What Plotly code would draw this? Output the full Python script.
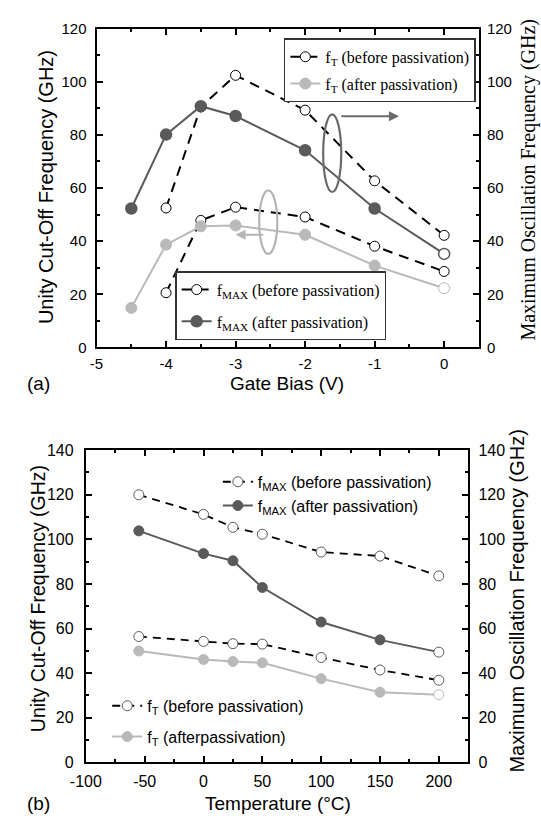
import plotly.graph_objects as go

# ---------------- data: (a) gate bias ----------------
bias_after = [-4.5, -4, -3.5, -3, -2, -1, 0]
bias_before = [-4, -3.5, -3, -2, -1, 0]
ft_before_a = [20.6, 47.8, 52.8, 49.1, 38.1, 28.6]
ft_after_a = [14.9, 38.7, 45.6, 45.9, 42.4, 30.8, 22.3]
fmax_before_a = [52.5, 90.5, 102.4, 89.3, 62.7, 42.2]
fmax_after_a = [52.3, 80.1, 90.8, 87.1, 74.2, 52.3, 35.2]

# ---------------- data: (b) temperature ----------------
temp = [-55, 0, 25, 50, 100, 150, 200]
fmax_before_b = [120.0, 111.2, 105.4, 102.3, 94.3, 92.5, 83.6]
fmax_after_b = [103.8, 93.6, 90.4, 78.4, 62.9, 54.9, 49.4]
ft_before_b = [56.4, 54.2, 53.2, 53.0, 47.0, 41.4, 36.8]
ft_after_b = [49.9, 46.1, 45.2, 44.6, 37.5, 31.4, 30.3]

# ---------------- tick labels ----------------
xa_tickvals = [-5, -4, -3, -2, -1, 0]
xa_ticktext = ["-5", "-4", "-3", "-2", "-1", "0"]
ya_tickvals = [0, 20, 40, 60, 80, 100, 120]
ya_ticktext = ["0", "20", "40", "60", "80", "100", "120"]
xb_tickvals = [-100, -50, 0, 50, 100, 150, 200]
xb_ticktext = ["-100", "-50", "0", "50", "100", "150", "200"]
yb_tickvals = [0, 20, 40, 60, 80, 100, 120, 140]
yb_ticktext = ["0", "20", "40", "60", "80", "100", "120", "140"]

SANS = "Liberation Sans, Arial, sans-serif"
SERIF = "Liberation Serif, Times New Roman, serif"
W, H = 541, 827
DARK = "#5a5a5a"
LIGHT = "#b9b9b9"


def px(v):
    return v / W


def py(v):
    return 1 - v / H


def fills(n, color):
    # after-passivation series: last point drawn as open circle
    return [color] * (n - 1) + ["white"]


fig = go.Figure()

# ---- (a) traces ----
fig.add_trace(go.Scatter(
    x=bias_before, y=ft_before_a, xaxis="x", yaxis="y", mode="lines+markers",
    name="f<sub>T</sub> (before passivation)", legend="legend", legendgroup="a1",
    line=dict(color="black", width=2, dash="10px,7px"),
    marker=dict(size=10, color="white", line=dict(color="black", width=1))))
fig.add_trace(go.Scatter(
    x=bias_after, y=ft_after_a, xaxis="x", yaxis="y", mode="lines+markers",
    name="f<sub>T</sub> (after passivation)", legend="legend", legendgroup="a2",
    line=dict(color=LIGHT, width=2),
    marker=dict(size=11, color=fills(len(ft_after_a), LIGHT), line=dict(color=LIGHT, width=1))))
fig.add_trace(go.Scatter(
    x=bias_before, y=fmax_before_a, xaxis="x", yaxis="y2", mode="lines+markers",
    name="f<sub>MAX</sub> (before passivation)", legend="legend2", legendgroup="a3",
    line=dict(color="black", width=2, dash="10px,7px"),
    marker=dict(size=10, color="white", line=dict(color="black", width=1))))
fig.add_trace(go.Scatter(
    x=bias_after, y=fmax_after_a, xaxis="x", yaxis="y2", mode="lines+markers",
    name="f<sub>MAX</sub> (after passivation)", legend="legend2", legendgroup="a4",
    line=dict(color=DARK, width=2),
    marker=dict(size=11, color=fills(len(fmax_after_a), DARK), line=dict(color=DARK, width=1.5))))

# ---- (b) traces ----
fig.add_trace(go.Scatter(
    x=temp, y=fmax_before_b, xaxis="x2", yaxis="y4", mode="lines+markers",
    name="f<sub>MAX</sub> (before passivation)", legend="legend3", legendgroup="b1",
    line=dict(color="black", width=1.8, dash="8px,6px"),
    marker=dict(size=10, color="white", line=dict(color=DARK, width=1))))
fig.add_trace(go.Scatter(
    x=temp, y=fmax_after_b, xaxis="x2", yaxis="y4", mode="lines+markers",
    name="f<sub>MAX</sub> (after passivation)", legend="legend3", legendgroup="b2",
    line=dict(color=DARK, width=2),
    marker=dict(size=10, color=fills(len(fmax_after_b), DARK), line=dict(color=DARK, width=1))))
fig.add_trace(go.Scatter(
    x=temp, y=ft_before_b, xaxis="x2", yaxis="y3", mode="lines+markers",
    name="f<sub>T</sub> (before passivation)", legend="legend4", legendgroup="b3",
    line=dict(color="black", width=1.8, dash="8px,6px"),
    marker=dict(size=10, color="white", line=dict(color=DARK, width=1))))
fig.add_trace(go.Scatter(
    x=temp, y=ft_after_b, xaxis="x2", yaxis="y3", mode="lines+markers",
    name="f<sub>T</sub> (afterpassivation)", legend="legend4", legendgroup="b4",
    line=dict(color=LIGHT, width=2),
    marker=dict(size=10, color=fills(len(ft_after_b), LIGHT), line=dict(color=LIGHT, width=1))))

tick_common = dict(
    showline=True, linecolor="black", linewidth=2, showgrid=False, zeroline=False,
    ticks="inside", ticklen=6, tickwidth=1.5, tickcolor="black", tickmode="array",
)

# top frame: x 83..477, y 20..346 ; bottom frame: x 72..466, y 451..770
fig.update_layout(
    width=W, height=H, margin=dict(l=0, r=0, t=0, b=0),
    paper_bgcolor="white", plot_bgcolor="white",
    font=dict(family=SANS, color="black"),
    xaxis=dict(**tick_common, domain=[px(83), px(477)], anchor="y", range=[-5, 0.5],
               tickvals=xa_tickvals, ticktext=xa_ticktext, mirror="ticks",
               minor=dict(ticks="inside", ticklen=3, tickwidth=1.5, tickcolor="black",
                          tickmode="linear", tick0=0, dtick=0.5),
               tickfont=dict(family=SANS, size=15), ticklabelstandoff=2),
    yaxis=dict(**tick_common, domain=[py(346), py(20)], anchor="x", range=[0, 120],
               tickvals=ya_tickvals, ticktext=ya_ticktext,
               minor=dict(ticks="inside", ticklen=3, tickwidth=1.5, tickcolor="black",
                          tickmode="linear", tick0=0, dtick=10),
               tickfont=dict(family=SANS, size=15), ticklabelstandoff=5),
    yaxis2=dict(**tick_common, overlaying="y", anchor="x", side="right", range=[0, 120],
                tickvals=ya_tickvals, ticktext=ya_ticktext,
                minor=dict(ticks="inside", ticklen=3, tickwidth=1.5, tickcolor="black",
                           tickmode="linear", tick0=0, dtick=10),
                tickfont=dict(family=SANS, size=15), ticklabelstandoff=3),
    xaxis2=dict(**tick_common, domain=[px(72), px(466)], anchor="y3", range=[-100, 225],
                tickvals=xb_tickvals, ticktext=xb_ticktext, mirror="ticks",
                minor=dict(ticks="inside", ticklen=3, tickwidth=1.5, tickcolor="black",
                           tickmode="linear", tick0=0, dtick=25),
                tickfont=dict(family=SANS, size=16), ticklabelstandoff=4),
    yaxis3=dict(**tick_common, domain=[py(770), py(451)], anchor="x2", range=[0, 140],
                tickvals=yb_tickvals, ticktext=yb_ticktext,
                minor=dict(ticks="inside", ticklen=3, tickwidth=1.5, tickcolor="black",
                           tickmode="linear", tick0=0, dtick=10),
                tickfont=dict(family=SANS, size=16), ticklabelstandoff=7),
    yaxis4=dict(**tick_common, overlaying="y3", anchor="x2", side="right", range=[0, 140],
                tickvals=yb_tickvals, ticktext=yb_ticktext,
                minor=dict(ticks="inside", ticklen=3, tickwidth=1.5, tickcolor="black",
                           tickmode="linear", tick0=0, dtick=10),
                tickfont=dict(family=SANS, size=16), ticklabelstandoff=5),
    legend=dict(x=px(276), y=py(30), xanchor="left", yanchor="top",
                bgcolor="white", bordercolor="#333", borderwidth=1.5,
                font=dict(family=SERIF, size=16), tracegroupgap=3, traceorder="grouped"),
    legend2=dict(x=px(164), y=py(268), xanchor="left", yanchor="top",
                 bgcolor="white", bordercolor="#333", borderwidth=1.5,
                 font=dict(family=SERIF, size=16), tracegroupgap=8, traceorder="grouped"),
    legend3=dict(x=px(208), y=py(466), xanchor="left", yanchor="top",
                 bgcolor="rgba(0,0,0,0)", borderwidth=0,
                 font=dict(family=SANS, size=16), tracegroupgap=0, traceorder="grouped"),
    legend4=dict(x=px(94), y=py(695), xanchor="left", yanchor="top",
                 bgcolor="rgba(0,0,0,0)", borderwidth=0,
                 font=dict(family=SANS, size=16), tracegroupgap=7, traceorder="grouped"),
)

# ---- ellipses & arrows in panel (a) ----
fig.add_shape(type="circle", xref="x", yref="y", x0=-1.74, x1=-1.48, y0=58.5, y1=87.7,
              line=dict(color="#6a6a6a", width=2.2))
fig.add_shape(type="circle", xref="x", yref="y", x0=-2.66, x1=-2.40, y0=35.2, y1=59.1,
              line=dict(color="#b5b5b5", width=2.2))
fig.add_annotation(x=-0.65, y=87, ax=-1.50, ay=87, xref="x", yref="y", axref="x", ayref="y",
                   text="", showarrow=True, arrowhead=2, arrowsize=1, arrowwidth=2,
                   arrowcolor="#6a6a6a")
fig.add_annotation(x=-3.0, y=42.4, ax=-2.58, ay=42.4, xref="x", yref="y", axref="x", ayref="y",
                   text="", showarrow=True, arrowhead=2, arrowsize=1, arrowwidth=2,
                   arrowcolor="#b5b5b5")

# ---- axis titles & panel labels ----
def label(text, x, y, size, family=SANS, angle=0, xanchor="center"):
    fig.add_annotation(text=text, x=px(x), y=py(y), xref="paper", yref="paper",
                       showarrow=False, textangle=angle, xanchor=xanchor, yanchor="middle",
                       font=dict(family=family, size=size, color="black"))

label("Unity Cut-Off Frequency (GHz)", 31, 182, 20, angle=-90)
label("Maximum Oscillation Frequency (GHz)", 528, 174, 20, family=SERIF, angle=-90)
label("Gate Bias (V)", 279, 383, 19)
label("(a)", 9, 383, 19, xanchor="left")

label("Unity Cut-Off Frequency (GHz)", 23, 603, 19.5, angle=-90)
label("Maximum Oscillation Frequency (GHz)", 516, 605, 20, angle=-90)
label("Temperature (°C)", 270, 812, 19)
label("(b)", 9, 812, 19, xanchor="left")

fig.write_html("out.html")
